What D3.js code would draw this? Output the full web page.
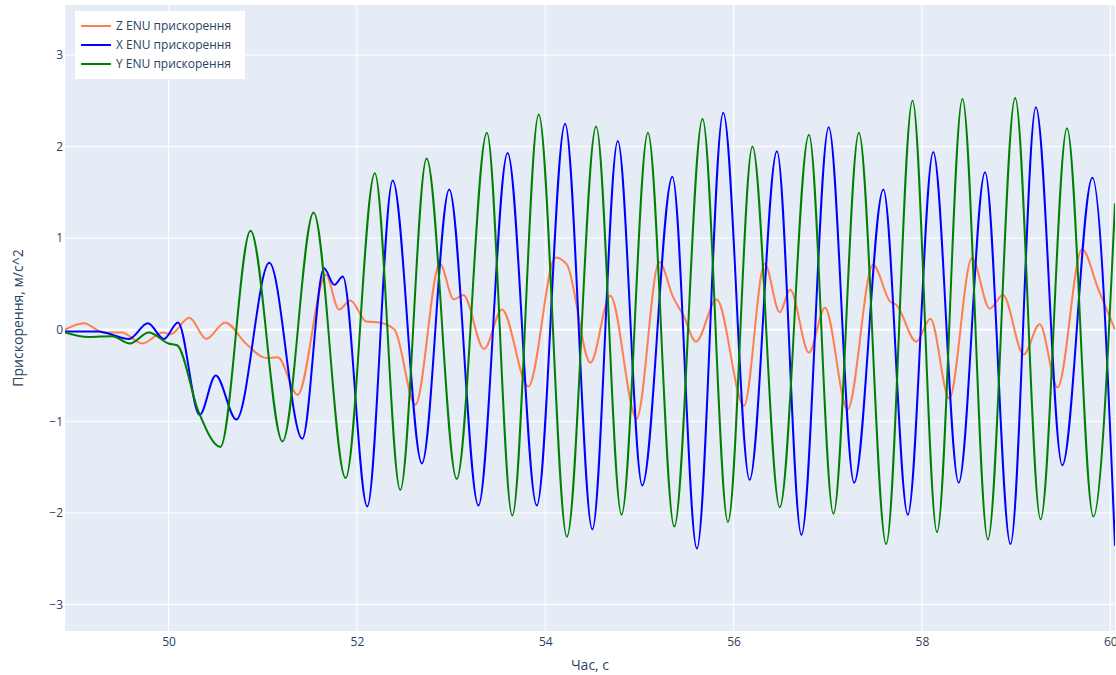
<!DOCTYPE html>
<html>
<head>
<meta charset="utf-8">
<script src="https://cdn.jsdelivr.net/npm/d3@7"></script>
<style>
    body { margin: 0; background: #fff; }
    text { font-family: "Open Sans", "Noto Sans", sans-serif; fill: #2a3f5f; }
</style>
</head>
<body>
<div id="chart"></div>
<script>
// time (s) and acceleration (m/s^2) at turning points
const zTime = [48.90, 49.10, 49.31, 49.50, 49.72, 49.94, 50.02, 50.22, 50.40, 50.60, 50.82, 51.04, 51.16, 51.37, 51.67,
    51.81, 51.93, 52.10, 52.24, 52.40, 52.62, 52.88, 53.03, 53.13, 53.35, 53.54, 53.82, 54.11, 54.23, 54.48, 54.69,
    54.97, 55.21, 55.36, 55.47, 55.60, 55.82, 56.11, 56.33, 56.49, 56.60, 56.80, 56.97, 57.21, 57.48, 57.66, 57.73,
    57.94, 58.09, 58.29, 58.53, 58.72, 58.86, 59.08, 59.25, 59.44, 59.70, 59.87, 60.05];
const zAccel = [0.00, 0.07, -0.03, -0.03, -0.15, -0.03, -0.05, 0.13, -0.10, 0.08, -0.15, -0.31, -0.30, -0.71, 0.60,
    0.22, 0.32, 0.09, 0.08, 0.00, -0.82, 0.72, 0.33, 0.38, -0.21, 0.22, -0.62, 0.79, 0.71, -0.36, 0.37,
    -0.97, 0.74, 0.35, 0.15, -0.13, 0.33, -0.83, 0.72, 0.19, 0.44, -0.25, 0.24, -0.87, 0.71, 0.31, 0.27,
    -0.13, 0.12, -0.75, 0.78, 0.23, 0.38, -0.27, 0.06, -0.63, 0.88, 0.45, 0.00];

const xTime = [48.90, 49.25, 49.58, 49.78, 49.95, 50.10, 50.33, 50.50, 50.72, 51.07, 51.42, 51.65, 51.76, 51.85,
    52.11, 52.38, 52.69, 52.98, 53.29, 53.60, 53.91, 54.21, 54.50, 54.77, 55.03, 55.35, 55.61, 55.89, 56.17,
    56.46, 56.72, 57.01, 57.28, 57.59, 57.85, 58.12, 58.39, 58.67, 58.94, 59.21, 59.49, 59.81, 60.05];
const xAccel = [-0.02, -0.02, -0.10, 0.07, -0.10, 0.08, -0.93, -0.50, -0.98, 0.73, -1.19, 0.67, 0.49, 0.58,
    -1.93, 1.63, -1.46, 1.53, -1.92, 1.93, -1.92, 2.25, -2.18, 2.06, -1.70, 1.67, -2.39, 2.37, -1.64,
    1.95, -2.24, 2.21, -1.67, 1.53, -2.02, 1.94, -1.67, 1.72, -2.34, 2.43, -1.48, 1.66, -2.36];

const yTime = [48.90, 49.15, 49.40, 49.59, 49.79, 50.00, 50.09, 50.32, 50.55, 50.87, 51.21, 51.54, 51.88,
    52.19, 52.46, 52.74, 53.06, 53.38, 53.65, 53.93, 54.23, 54.54, 54.81, 55.09, 55.37, 55.67, 55.94,
    56.20, 56.49, 56.80, 57.06, 57.33, 57.62, 57.90, 58.16, 58.43, 58.70, 58.99, 59.26, 59.54, 59.82, 60.05];
const yAccel = [-0.03, -0.08, -0.07, -0.15, -0.03, -0.15, -0.17, -0.90, -1.28, 1.08, -1.22, 1.28, -1.62,
    1.71, -1.75, 1.87, -1.63, 2.15, -2.03, 2.35, -2.26, 2.22, -2.02, 2.15, -2.15, 2.30, -2.10,
    2.00, -1.94, 2.13, -2.01, 2.15, -2.34, 2.50, -2.21, 2.52, -2.29, 2.53, -2.07, 2.20, -2.04, 1.38];

const seriesNames = ['Z ENU прискорення', 'X ENU прискорення', 'Y ENU прискорення'];
const seriesColors = ['coral', 'blue', 'green'];
const xTicks = [50, 52, 54, 56, 58, 60];
const yTicks = [-3, -2, -1, 0, 1, 2, 3];

const series = [
    zTime.map((t, i) => ({ t, v: zAccel[i] })),
    xTime.map((t, i) => ({ t, v: xAccel[i] })),
    yTime.map((t, i) => ({ t, v: yAccel[i] }))
];

const width = 1116;
const height = 675;
const plot = { left: 65, right: 1115, top: 5, bottom: 631 };

const svg = d3.select('#chart')
    .append('svg')
    .attr('width', width)
    .attr('height', height);

const x = d3.scaleLinear().domain([48.9, 60.05]).range([plot.left, plot.right]);
const y = d3.scaleLinear().domain([-3.29, 3.546]).range([plot.bottom, plot.top]);

svg.append('rect')
    .attr('x', plot.left)
    .attr('y', plot.top)
    .attr('width', plot.right - plot.left)
    .attr('height', plot.bottom - plot.top)
    .attr('fill', '#E5ECF6');

// grid
svg.append('g')
    .selectAll('line')
    .data(xTicks)
    .enter()
    .append('line')
    .attr('x1', d => x(d))
    .attr('x2', d => x(d))
    .attr('y1', plot.top)
    .attr('y2', plot.bottom)
    .attr('stroke', '#fff')
    .attr('stroke-width', 1);

svg.append('g')
    .selectAll('line')
    .data(yTicks)
    .enter()
    .append('line')
    .attr('x1', plot.left)
    .attr('x2', plot.right)
    .attr('y1', d => y(d))
    .attr('y2', d => y(d))
    .attr('stroke', '#fff')
    .attr('stroke-width', d => d === 0 ? 2 : 1);

// axes (labels only, plotly style)
const xAxis = svg.append('g')
    .attr('transform', `translate(0,${plot.bottom})`)
    .call(d3.axisBottom(x).tickValues(xTicks).tickFormat(d3.format('d')).tickSize(0).tickPadding(6));
xAxis.select('.domain').remove();

const yAxis = svg.append('g')
    .attr('transform', `translate(${plot.left},0)`)
    .call(d3.axisLeft(y).tickValues(yTicks).tickFormat(d3.format('d')).tickSize(0).tickPadding(2));
yAxis.select('.domain').remove();

svg.selectAll('.tick text')
    .attr('font-size', 12)
    .attr('fill', '#2a3f5f')
    .attr('font-family', '"Open Sans", "Noto Sans", sans-serif');

svg.append('text')
    .attr('x', (plot.left + plot.right) / 2)
    .attr('y', 670)
    .attr('text-anchor', 'middle')
    .attr('font-size', 14)
    .text('Час, с');

svg.append('text')
    .attr('transform', `translate(23,${(plot.top + plot.bottom) / 2}) rotate(-90)`)
    .attr('text-anchor', 'middle')
    .attr('font-size', 14)
    .text('Прискорення, м/с^2');

// lines
svg.append('clipPath')
    .attr('id', 'clip')
    .append('rect')
    .attr('x', plot.left)
    .attr('y', plot.top)
    .attr('width', plot.right - plot.left)
    .attr('height', plot.bottom - plot.top);

const line = d3.line()
    .x(d => x(d.t))
    .y(d => y(d.v))
    .curve(d3.curveMonotoneX);

svg.append('g')
    .attr('clip-path', 'url(#clip)')
    .selectAll('path')
    .data(series)
    .enter()
    .append('path')
    .attr('d', line)
    .attr('fill', 'none')
    .attr('stroke', (d, i) => seriesColors[i])
    .attr('stroke-width', 2)
    .attr('stroke-linejoin', 'round');

// legend
const legend = svg.append('g').attr('transform', 'translate(75,11)');
legend.append('rect')
    .attr('width', 170)
    .attr('height', 68)
    .attr('fill', '#fff');

const item = legend.selectAll('g')
    .data(seriesNames)
    .enter()
    .append('g')
    .attr('transform', (d, i) => `translate(0,${15 + i * 19})`);

item.append('line')
    .attr('x1', 6)
    .attr('x2', 36)
    .attr('stroke', (d, i) => seriesColors[i])
    .attr('stroke-width', 2);

item.append('text')
    .attr('x', 41)
    .attr('dy', '0.35em')
    .attr('font-size', 12)
    .text(d => d);
</script>
</body>
</html>
